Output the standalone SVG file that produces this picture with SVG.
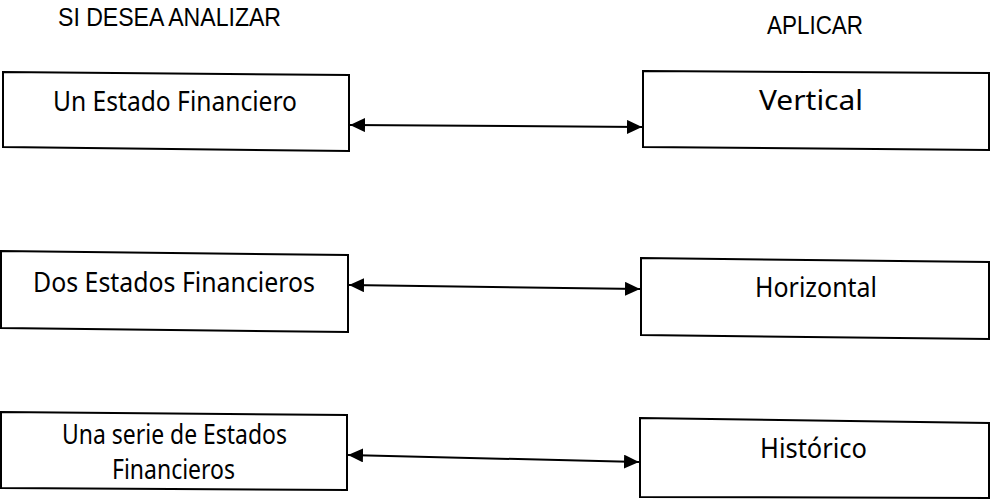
<svg xmlns="http://www.w3.org/2000/svg" width="990" height="499" viewBox="0 0 990 499">
<style>
.box{fill:#fff;stroke:#000;stroke-width:2;stroke-linejoin:miter}
.hdr{font-family:"Liberation Sans","DejaVu Sans",sans-serif;font-size:25px;fill:#000}
.lbl{font-family:"Noto Sans","Open Sans",sans-serif;font-size:28px;fill:#000}
.con{stroke:#000;stroke-width:2;fill:none;marker-start:url(#ah);marker-end:url(#ah)}
</style>
<defs>
<marker id="ah" viewBox="0 0 15 14" refX="15" refY="7" markerWidth="15" markerHeight="14" markerUnits="userSpaceOnUse" orient="auto-start-reverse">
<path d="M0,0 L15,7 L0,14 Z" fill="#000"/>
</marker>
</defs>
<rect width="990" height="499" fill="#fff"/>
<g id="headers">
<text class="hdr" x="58" y="26" textLength="223" lengthAdjust="spacingAndGlyphs">SI DESEA ANALIZAR</text>
<text class="hdr" x="767" y="34" textLength="96" lengthAdjust="spacingAndGlyphs">APLICAR</text>
</g>
<g id="n1">
<path class="box" d="M3,72 L349,75 L349,151 L3,147 Z"/>
<text class="lbl" x="53" y="111" textLength="244" lengthAdjust="spacingAndGlyphs">Un Estado Financiero</text>
</g>
<g id="n2">
<path class="box" d="M643,71 L989,73 L989,150 L643,147 Z"/>
<text class="lbl" x="759" y="110" textLength="104" lengthAdjust="spacingAndGlyphs">Vertical</text>
</g>
<g id="n3">
<path class="box" d="M1,251 L348,255 L348,332 L1,328 Z"/>
<text class="lbl" x="33" y="292" textLength="282" lengthAdjust="spacingAndGlyphs">Dos Estados Financieros</text>
</g>
<g id="n4">
<path class="box" d="M641,258 L989,262 L989,339 L641,335 Z"/>
<text class="lbl" x="755" y="297" textLength="122" lengthAdjust="spacingAndGlyphs">Horizontal</text>
</g>
<g id="n5">
<path class="box" d="M1,412 L347,415 L347,490 L1,488 Z"/>
<text class="lbl" x="62" y="444" font-size="23" textLength="225" lengthAdjust="spacingAndGlyphs">Una serie de Estados</text>
<text class="lbl" x="112" y="479" font-size="23" textLength="123" lengthAdjust="spacingAndGlyphs">Financieros</text>
</g>
<g id="n6">
<path class="box" d="M640,418 L989,423 L989,498 L640,497 Z"/>
<text class="lbl" x="760" y="458" textLength="107" lengthAdjust="spacingAndGlyphs">Histórico</text>
</g>
<g id="connectors">
<line class="con" x1="350" y1="125" x2="642" y2="127"/>
<line class="con" x1="349" y1="285" x2="640" y2="289"/>
<line class="con" x1="348" y1="455" x2="639" y2="462"/>
</g>
</svg>
